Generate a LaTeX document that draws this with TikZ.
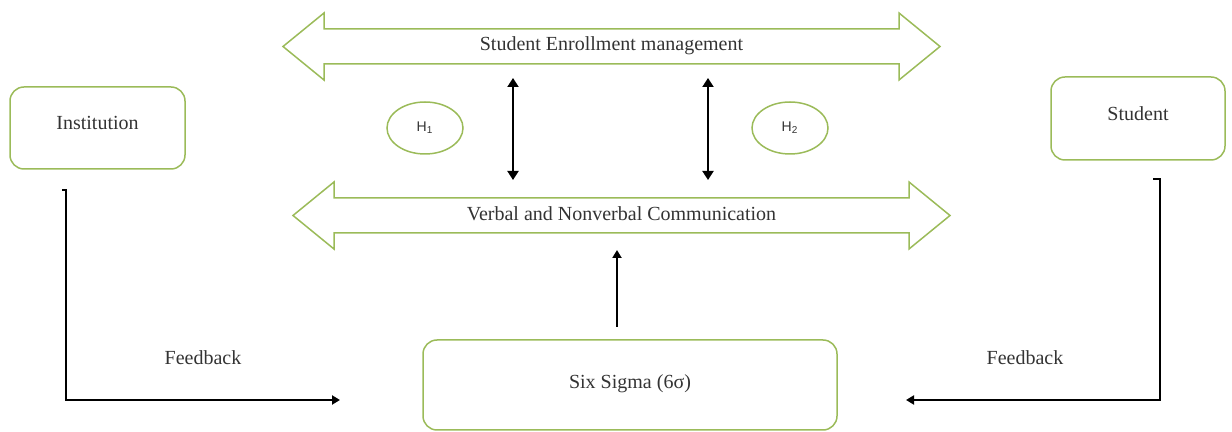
\documentclass[tikz,border=0pt]{standalone}
\usepackage{fontspec}
\setmainfont{Liberation Serif}
\newfontfamily\hypfont{Liberation Sans}
\usetikzlibrary{shapes.geometric}
\usetikzlibrary{arrows.meta}
\definecolor{color_frame_green}{HTML}{9BBB59}
\definecolor{color_label_text}{HTML}{333333}
\def\framelinewidth{0.75pt}
\def\linklinewidth{1pt}
\def\labelfont{\fontsize{10}{12}\selectfont}
\def\headlength{41}
\def\headhalf{33.5}
\def\shafthalf{17.5}
% band arrow with a head at both ends: (left tip, right tip, middle)
\def\bandarrow[#1](#2,#3,#4){
    \draw[#1] (#2,#4) -- (#2+\headlength,#4-\headhalf) -- (#2+\headlength,#4-\shafthalf)
        -- (#3-\headlength,#4-\shafthalf) -- (#3-\headlength,#4-\headhalf) -- (#3,#4)
        -- (#3-\headlength,#4+\headhalf) -- (#3-\headlength,#4+\shafthalf)
        -- (#2+\headlength,#4+\shafthalf) -- (#2+\headlength,#4+\headhalf) -- cycle;
}
\tikzset{
    bandline/.style={draw=color_frame_green, line width=\framelinewidth},
    bandlabel/.style={text=color_label_text, font=\labelfont},
    roundbox/.style={draw=color_frame_green, line width=\framelinewidth, rounded corners=7pt,
        text=color_label_text, font=\labelfont, text height=7pt, text depth=5pt},
    hypnode/.style={ellipse, draw=color_frame_green, line width=\framelinewidth, inner sep=0pt,
        minimum width=38pt, minimum height=26pt, text=color_label_text, font=\hypfont\fontsize{7}{8}\selectfont},
    oneway/.style={line width=\linklinewidth, -{Triangle[length=4pt,width=4.5pt]}},
    twoway/.style={line width=\linklinewidth, {Triangle[length=4.5pt,width=5.5pt]}-{Triangle[length=4.5pt,width=5.5pt]}},
    feedlabel/.style={text=color_label_text, font=\labelfont}
}
\begin{document}
\begin{tikzpicture}[x=0.5pt,y=-0.5pt]
        \useasboundingbox (0,0) rectangle (1232,432);
        % the two bands
        \bandarrow[bandline](283,940,46.5)
        \bandarrow[bandline](293,950,215.5)
        \node[bandlabel] (enrolment) at (611.5,46) {Student Enrollment management};
        \node[bandlabel] (communication) at (621.5,214) {Verbal and Nonverbal Communication};
        % boxes
        \node[roundbox, minimum width=87.5pt, minimum height=41pt] (institution) at (97.5,128) {Institution};
        \node[roundbox, minimum width=87pt, minimum height=41.5pt] (student) at (1138,118.5) {Student};
        \node[roundbox, minimum width=207pt, minimum height=45pt, text depth=3pt] (sixsigma) at (630,385) {Six Sigma (6σ)};
        \node[hypnode] (hone) at (425,128) {H\textsubscript{1}};
        \node[hypnode] (htwo) at (790,128) {H\textsubscript{2}};
        % links between the bands
        \coordinate (lefttop) at (513,78);
        \coordinate (leftbottom) at (513,180);
        \coordinate (righttop) at (708,78);
        \coordinate (rightbottom) at (708,180);
        \draw[twoway] (lefttop) -- (leftbottom);
        \draw[twoway] (righttop) -- (rightbottom);
        \coordinate (sigmaout) at (617,327);
        \coordinate (communicationin) at (617,250);
        \draw[oneway] (sigmaout) -- (communicationin);
        % feedback loops
        \coordinate (institutionfeed) at (62,190);
        \coordinate (sigmaleft) at (340,400);
        \coordinate (studentfeed) at (1153,179);
        \coordinate (sigmaright) at (906,400);
        \draw[oneway] (institutionfeed) -- ++(4,0) |- (sigmaleft);
        \draw[oneway] (studentfeed) -- ++(7,0) |- (sigmaright);
        \node[feedlabel] (feedleft) at (203,358) {Feedback};
        \node[feedlabel] (feedright) at (1025,358) {Feedback};
    \end{tikzpicture}
\end{document}
